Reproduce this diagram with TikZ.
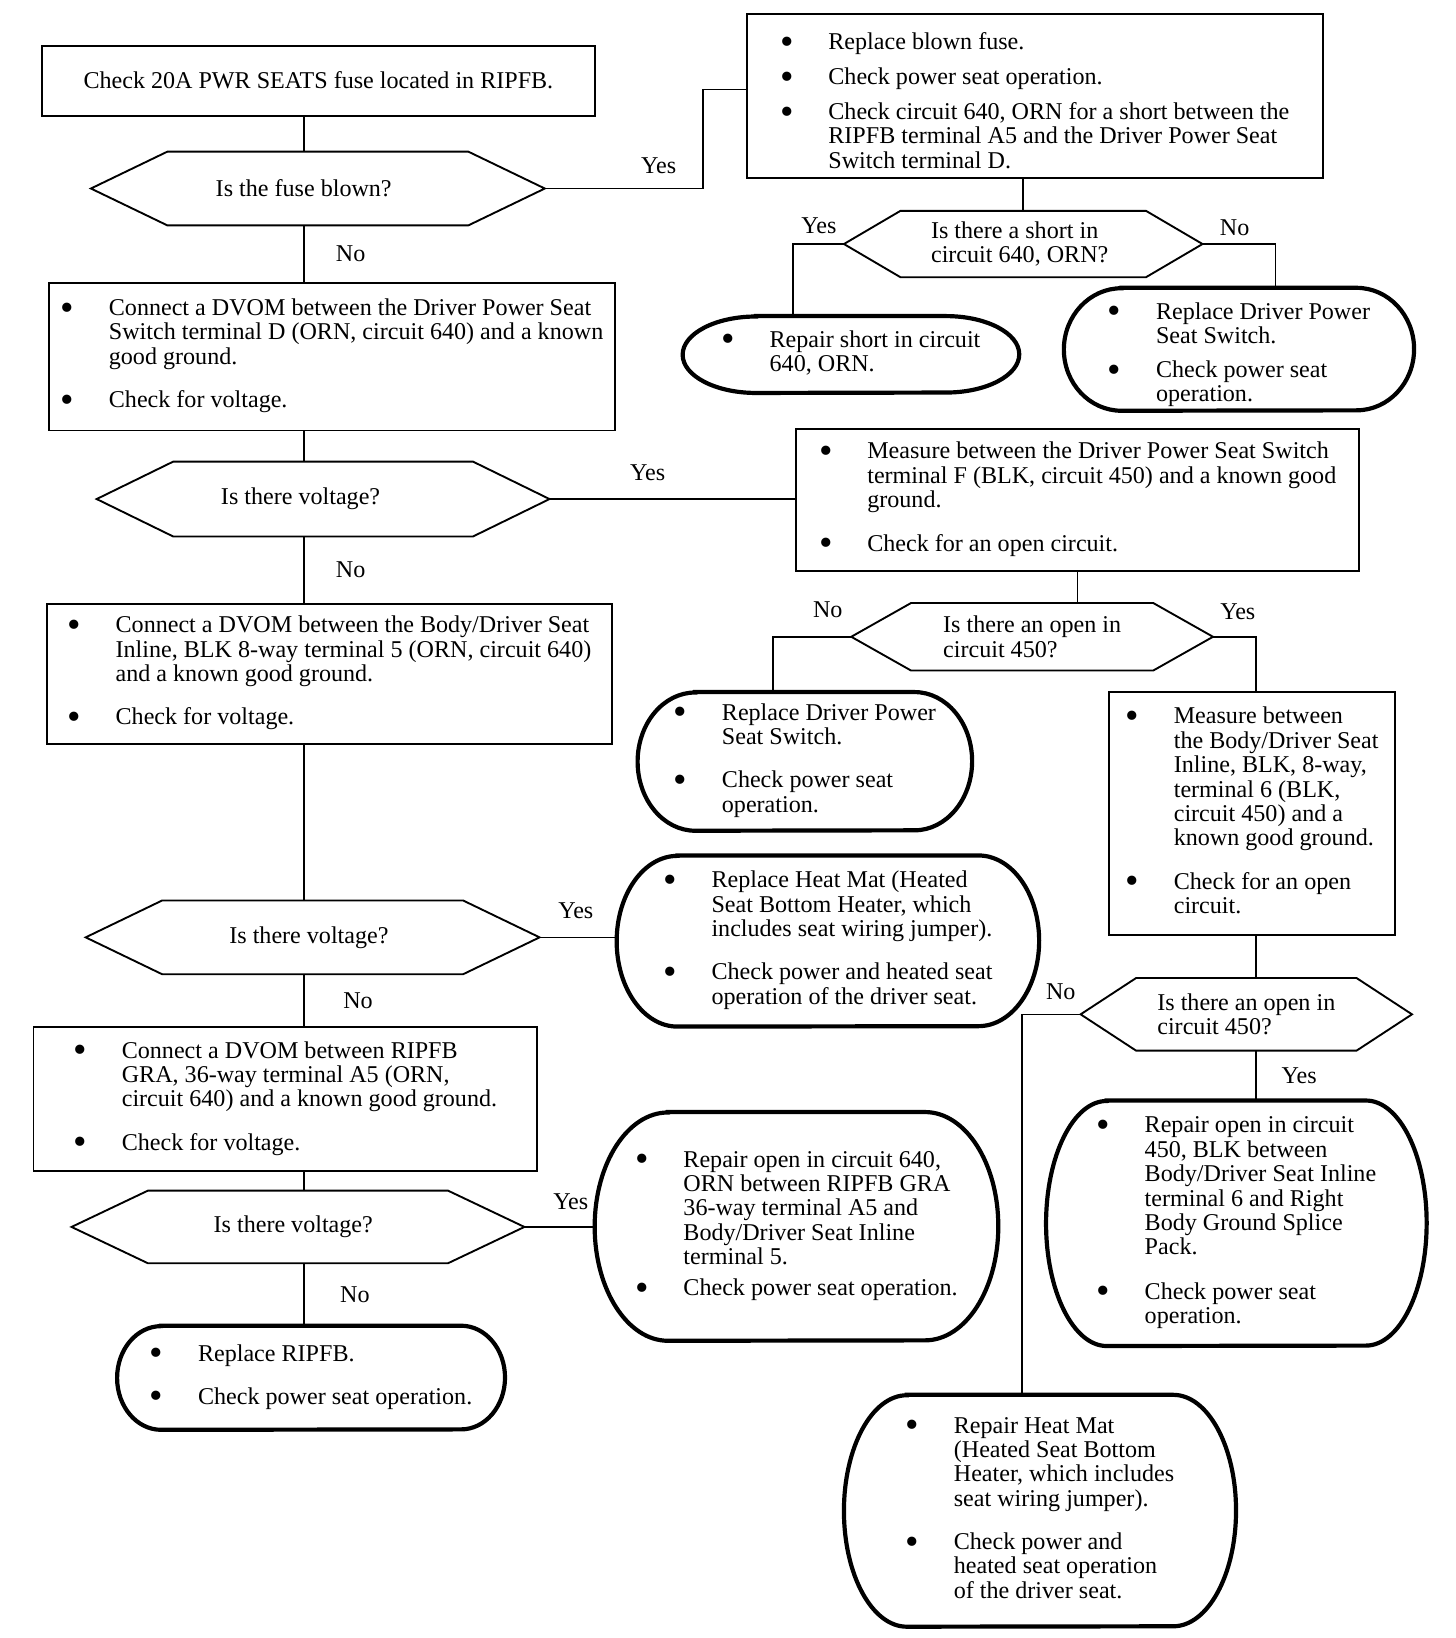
\documentclass[tikz,border=0pt]{standalone}
\usepackage{fontspec}
\setmainfont{Liberation Serif}

\newcommand{\blt}{\raisebox{-4.5pt}{\scalebox{1.6}{\textbullet}}}
\newenvironment{bullets}{\begin{tabular}{@{}p{46pt}@{}l@{}}}{\end{tabular}}
\newcommand{\hexframe}[2]{%
  \draw[askline] (#1.west) -- ([shift={(#2,0)}]#1.north west)
    -- ([shift={(-#2,0)}]#1.north east) -- (#1.east)
    -- ([shift={(-#2,0)}]#1.south east) -- ([shift={(#2,0)}]#1.south west) -- cycle;}
\newcommand{\capsule}[3]{%
  \draw[endline] ([shift={(#2,0)}]#1.north west) -- ([shift={(-#2,0)}]#1.north east)
    arc[start angle=90, end angle=-90, x radius=#2pt, y radius=#3pt]
    -- ([shift={(#2,0)}]#1.south west)
    arc[start angle=270, end angle=90, x radius=#2pt, y radius=#3pt] -- cycle;}

\tikzset{
  stepbox/.style={draw, line width=1.8pt, inner sep=0pt},
  askbox/.style={inner sep=0pt, align=flush left},
  endbox/.style={inner sep=0pt},
  askline/.style={line width=1.8pt},
  endline/.style={line width=4pt},
  link/.style={line width=1.5pt},
  answer/.style={inner sep=2pt}
}

\begin{document}
\begin{tikzpicture}[x=1pt, y=-1pt, font=\fontsize{23}{23.3}\selectfont]
  \useasboundingbox (0,0) rectangle (1390,1564);
  \coordinate (spine) at (290,0);
  \coordinate (rcol) at (1199,0);

  % left column
  \node[stepbox, minimum width=528pt, minimum height=67pt] (check) at (304,77) {Check 20A PWR SEATS fuse located in RIPFB.};
  \node[askbox, text width=195pt, minimum width=433pt, minimum height=70pt] (fuse) at (303.5,180) {Is the fuse blown?};
  \node[stepbox, minimum width=540pt, minimum height=141pt] (dvom1) at (317,340.5) {\begin{bullets}
      \blt & Connect a DVOM between the Driver Power Seat\\
      & Switch terminal D (ORN, circuit 640) and a known\\
      & good ground.\\[18pt]
      \blt & Check for voltage.
    \end{bullets}};
  \node[askbox, text width=195pt, minimum width=432pt, minimum height=71pt] (volt1) at (308.5,476.5) {Is there voltage?};
  \node[stepbox, minimum width=539pt, minimum height=133pt] (dvom2) at (314.5,643.5) {\begin{bullets}
      \blt & Connect a DVOM between the Body/Driver Seat\\
      & Inline, BLK 8-way terminal 5 (ORN, circuit 640)\\
      & and a known good ground.\\[18pt]
      \blt & Check for voltage.
    \end{bullets}};
  \node[askbox, text width=159pt, minimum width=433pt, minimum height=70pt] (volt2) at (298.5,895) {Is there voltage?};
  \node[stepbox, minimum width=481pt, minimum height=137pt] (dvom3) at (272.5,1049.5) {\begin{bullets}
      \blt & Connect a DVOM between RIPFB\\
      & GRA, 36-way terminal A5 (ORN,\\
      & circuit 640) and a known good ground.\\[18pt]
      \blt & Check for voltage.
    \end{bullets}};
  \node[askbox, text width=161pt, minimum width=432pt, minimum height=69pt] (volt3) at (284.5,1171.5) {Is there voltage?};
  \node[endbox, minimum width=370pt, minimum height=99pt] (ripfb) at (297,1315.5) {\begin{bullets}
      \blt & Replace RIPFB.\\[18pt]
      \blt & Check power seat operation.
    \end{bullets}};

  % right side
  \node[stepbox, minimum width=550pt, minimum height=157pt] (fix) at (988,91.5) {\begin{bullets}
      \noalign{\vskip 16pt}
      \blt & Replace blown fuse.\\[10pt]
      \blt & Check power seat operation.\\[10pt]
      \blt & Check circuit 640, ORN for a short between the\\
      & RIPFB terminal A5 and the Driver Power Seat\\
      & Switch terminal D.
    \end{bullets}};
  \node[askbox, text width=176pt, minimum width=342pt, minimum height=63pt] (short) at (977,233) {Is there a short in\\circuit 640, ORN?};
  \node[endbox, minimum width=321pt, minimum height=73pt] (repshort) at (812.5,338.5) {\begin{bullets}
      \blt & Repair short in circuit\\
      & 640, ORN.
    \end{bullets}};
  \node[endbox, minimum width=334pt, minimum height=117pt] (swap1) at (1183,333.5) {\begin{bullets}
      \noalign{\vskip 12pt}
      \blt & Replace Driver Power\\
      & Seat Switch.\\[9pt]
      \blt & Check power seat\\
      & operation.
    \end{bullets}};
  \node[stepbox, minimum width=538pt, minimum height=135pt] (meas1) at (1029,477.5) {\begin{bullets}
      \blt & Measure between the Driver Power Seat Switch\\
      & terminal F (BLK, circuit 450) and a known good\\
      & ground.\\[18pt]
      \blt & Check for an open circuit.
    \end{bullets}};
  \node[askbox, minimum width=345pt, minimum height=64pt] (open1) at (985.5,608) {Is there an open in\\circuit 450?};
  \node[endbox, minimum width=319pt, minimum height=132pt] (swap2) at (768.5,727) {\begin{bullets}
      \blt & Replace Driver Power\\
      & Seat Switch.\\[18pt]
      \blt & Check power seat\\
      & operation.
    \end{bullets}};
  \node[stepbox, minimum width=273pt, minimum height=232pt] (meas2) at (1195.5,777) {\begin{bullets}
      \blt & Measure between\\
      & the Body/Driver Seat\\
      & Inline, BLK, 8-way,\\
      & terminal 6 (BLK,\\
      & circuit 450) and a\\
      & known good ground.\\[18pt]
      \blt & Check for an open\\
      & circuit.
    \end{bullets}};
  \node[endbox, minimum width=403pt, minimum height=163pt] (heatmat) at (790.5,898.5) {\begin{bullets}
      \blt & Replace Heat Mat (Heated\\
      & Seat Bottom Heater, which\\
      & includes seat wiring jumper).\\[18pt]
      \blt & Check power and heated seat\\
      & operation of the driver seat.
    \end{bullets}};
  \node[askbox, minimum width=316pt, minimum height=69pt] (open2) at (1190,968.5) {Is there an open in\\circuit 450?};
  \node[endbox, minimum width=385pt, minimum height=218pt] (rep640) at (760.5,1171) {\begin{bullets}
      \blt & Repair open in circuit 640,\\
      & ORN between RIPFB GRA\\
      & 36-way terminal A5 and\\
      & Body/Driver Seat Inline\\
      & terminal 5.\\[6pt]
      \blt & Check power seat operation.
    \end{bullets}};
  \node[endbox, minimum width=363pt, minimum height=234pt] (rep450) at (1180.5,1168) {\begin{bullets}
      \blt & Repair open in circuit\\
      & 450, BLK between\\
      & Body/Driver Seat Inline\\
      & terminal 6 and Right\\
      & Body Ground Splice\\
      & Pack.\\[19pt]
      \blt & Check power seat\\
      & operation.
    \end{bullets}};
  \node[endbox, minimum width=374pt, minimum height=221pt] (repmat) at (993,1442.5) {\begin{bullets}
      \blt & Repair Heat Mat\\
      & (Heated Seat Bottom\\
      & Heater, which includes\\
      & seat wiring jumper).\\[18pt]
      \blt & Check power and\\
      & heated seat operation\\
      & of the driver seat.
    \end{bullets}};

  % outlines
  \hexframe{fuse}{73}
  \hexframe{volt1}{73}
  \hexframe{volt2}{73}
  \hexframe{volt3}{73}
  \hexframe{short}{54}
  \hexframe{open1}{57}
  \hexframe{open2}{53}
  \capsule{repshort}{70}{36.5}
  \capsule{swap1}{55}{58.5}
  \capsule{swap2}{55}{66}
  \capsule{heatmat}{58}{81.5}
  \capsule{rep640}{70}{109}
  \capsule{rep450}{58}{117}
  \capsule{ripfb}{42}{49.5}
  \capsule{repmat}{60}{110.5}

  % connectors
  \draw[link] (check.south -| spine) to (fuse.north -| spine);
  \draw[link] (fuse.east) -| node[answer, pos=0.36, above=11.5pt]{Yes} ([xshift=-41pt, yshift=6pt]fix.west) -- ([yshift=6pt]fix.west);
  \draw[link] (fuse.south -| spine) to node[answer, right=28pt]{No} (dvom1.north -| spine);
  \draw[link] (fix.south -| short.north) to (short.north);
  \draw[link] (short.west) -| node[answer, pos=0.245, above=7.5pt]{Yes} ([xshift=-55.5pt]repshort.north);
  \draw[link] (short.east) -| node[answer, pos=0.22, above=5.5pt]{No} ([xshift=35pt]swap1.north);
  \draw[link] (dvom1.south -| spine) to (volt1.north -| spine);
  \draw[link] (volt1.east) to node[answer, pos=0.4, above=15pt]{Yes} (volt1.east -| meas1.west);
  \draw[link] (volt1.south -| spine) to node[answer, right=28pt]{No} (dvom2.north -| spine);
  \draw[link] (meas1.south) to (meas1.south |- open1.north);
  \draw[link] (open1.west) -| node[answer, pos=0.15, above=15.5pt]{No} ([xshift=-30.5pt]swap2.north);
  \draw[link] (open1.east) -| node[answer, pos=0.29, above=13.5pt]{Yes} (meas2.north -| rcol);
  \draw[link] (dvom2.south -| spine) to (volt2.north -| spine);
  \draw[link] (volt2.east) to node[answer, pos=0.47, above=15.5pt]{Yes} (volt2.east -| heatmat.west);
  \draw[link] (volt2.south -| spine) to node[answer, right=35pt]{No} (dvom3.north -| spine);
  \draw[link] (meas2.south -| rcol) to (open2.north -| rcol);
  \draw[link] (open2.west) -| node[answer, pos=0.17, above=11pt]{No} ([xshift=-17pt]repmat.north);
  \draw[link] (open2.south -| rcol) to node[answer, right=22pt]{Yes} (rep450.north -| rcol);
  \draw[link] (dvom3.south -| spine) to (volt3.north -| spine);
  \draw[link] (volt3.east) to node[answer, pos=0.66, above=14pt]{Yes} (volt3.east -| rep640.west);
  \draw[link] (volt3.south -| spine) to node[answer, right=32pt]{No} (ripfb.north -| spine);
\end{tikzpicture}
\end{document}
